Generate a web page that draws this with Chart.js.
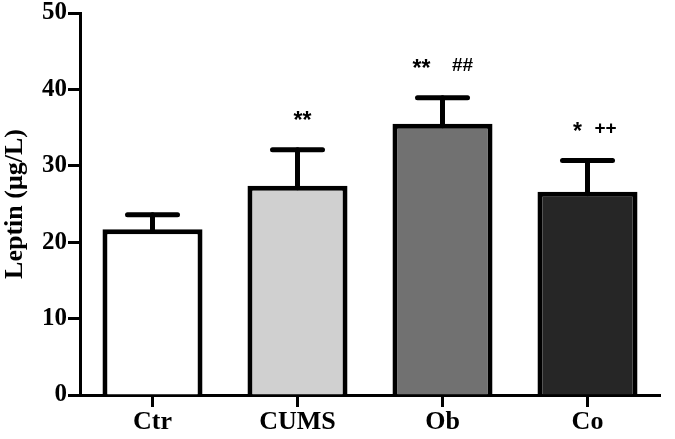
<!DOCTYPE html>
<html>
<head>
<meta charset="utf-8">
<script src="https://cdn.jsdelivr.net/npm/chart.js@4"></script>
<style>
  html, body { margin: 0; padding: 0; background: #fff; }
  #wrap { width: 675px; height: 439px; }
</style>
</head>
<body>
<div id="wrap"><canvas id="leptinChart" width="675" height="439"></canvas></div>
<script>
const groups = ["Ctr", "CUMS", "Ob", "Co"];
const leptin = [21.7, 27.4, 35.5, 26.6];
const errTop = [23.6, 32.1, 38.9, 30.7];
const marks = [[], ["**"], ["**", "##"], ["*", "++"]];
const barColors = ["#ffffff", "#d0d0d0", "#717171", "#262626"];
const yTicks = [0, 10, 20, 30, 40, 50];

const serif = "'Liberation Serif', 'Times New Roman', serif";

// error bars + significance marks
const errorBars = {
  id: "errorBars",
  afterDatasetsDraw(chart) {
    const ctx = chart.ctx;
    const y = chart.scales.y;
    const meta = chart.getDatasetMeta(0);
    ctx.save();
    ctx.strokeStyle = "#000";
    ctx.fillStyle = "#000";
    meta.data.forEach((bar, i) => {
      const x = bar.x;
      const yTop = y.getPixelForValue(errTop[i]);
      const yBar = y.getPixelForValue(leptin[i]);
      ctx.lineWidth = 5;
      ctx.lineCap = "round";
      ctx.beginPath();
      ctx.moveTo(x, yBar + 2);
      ctx.lineTo(x, yTop);
      ctx.stroke();
      ctx.beginPath();
      ctx.moveTo(x - 25, yTop);
      ctx.lineTo(x + 25, yTop);
      ctx.stroke();

      const m = marks[i];
      ctx.textAlign = "center";
      ctx.textBaseline = "middle";
      const ty = yTop - 32;
      if (m.length === 1) {
        ctx.font = "bold 23px 'Liberation Sans', Arial, sans-serif";
        ctx.fillText(m[0], x + 5, ty + 4);
      } else if (m.length === 2) {
        const gap = m[0] === "*" ? [-10, 18] : [-21, 20];
        ctx.font = "bold 23px 'Liberation Sans', Arial, sans-serif";
        ctx.fillText(m[0], x + gap[0], ty + 4);
        ctx.font = "bold 19px 'Liberation Sans', Arial, sans-serif";
        ctx.fillText(m[1], x + gap[1], ty);
      }
    });
    ctx.restore();
  }
};

new Chart(document.getElementById("leptinChart"), {
  type: "bar",
  data: {
    labels: groups,
    datasets: [{
      data: leptin,
      backgroundColor: barColors,
      borderColor: "#000",
      borderWidth: 5,
      borderSkipped: "bottom",
      barPercentage: 0.69,
      categoryPercentage: 1
    }]
  },
  options: {
    responsive: false,
    animation: false,
    events: [],
    layout: { padding: { top: 0, right: 15, left: 0, bottom: 0 } },
    plugins: { legend: { display: false }, tooltip: { enabled: false } },
    scales: {
      x: {
        offset: true,
        grid: {
          offset: false,
          drawOnChartArea: false,
          drawTicks: true,
          tickLength: 12,
          tickWidth: 3,
          color: "#000"
        },
        border: { color: "#000", width: 3 },
        ticks: {
          color: "#000",
          padding: 0,
          font: { family: serif, size: 26, weight: "bold" }
        },
        afterFit(scale) { scale.height = 44; }
      },
      y: {
        min: 0,
        max: 50,
        afterBuildTicks(scale) { scale.ticks = yTicks.map(v => ({ value: v })); },
        grid: {
          drawOnChartArea: false,
          drawTicks: true,
          tickLength: 12,
          tickWidth: 3,
          color: "#000"
        },
        border: { color: "#000", width: 3 },
        ticks: {
          color: "#000",
          padding: 1,
          font: { family: serif, size: 25, weight: "bold", lineHeight: 0.96 }
        },
        title: {
          display: true,
          text: "Leptin (μg/L)",
          color: "#000",
          padding: { top: 0, bottom: 4 },
          font: { family: serif, size: 26, weight: "bold" }
        },
        afterFit(scale) { scale.width = 80; }
      }
    }
  },
  plugins: [errorBars]
});
</script>
</body>
</html>
